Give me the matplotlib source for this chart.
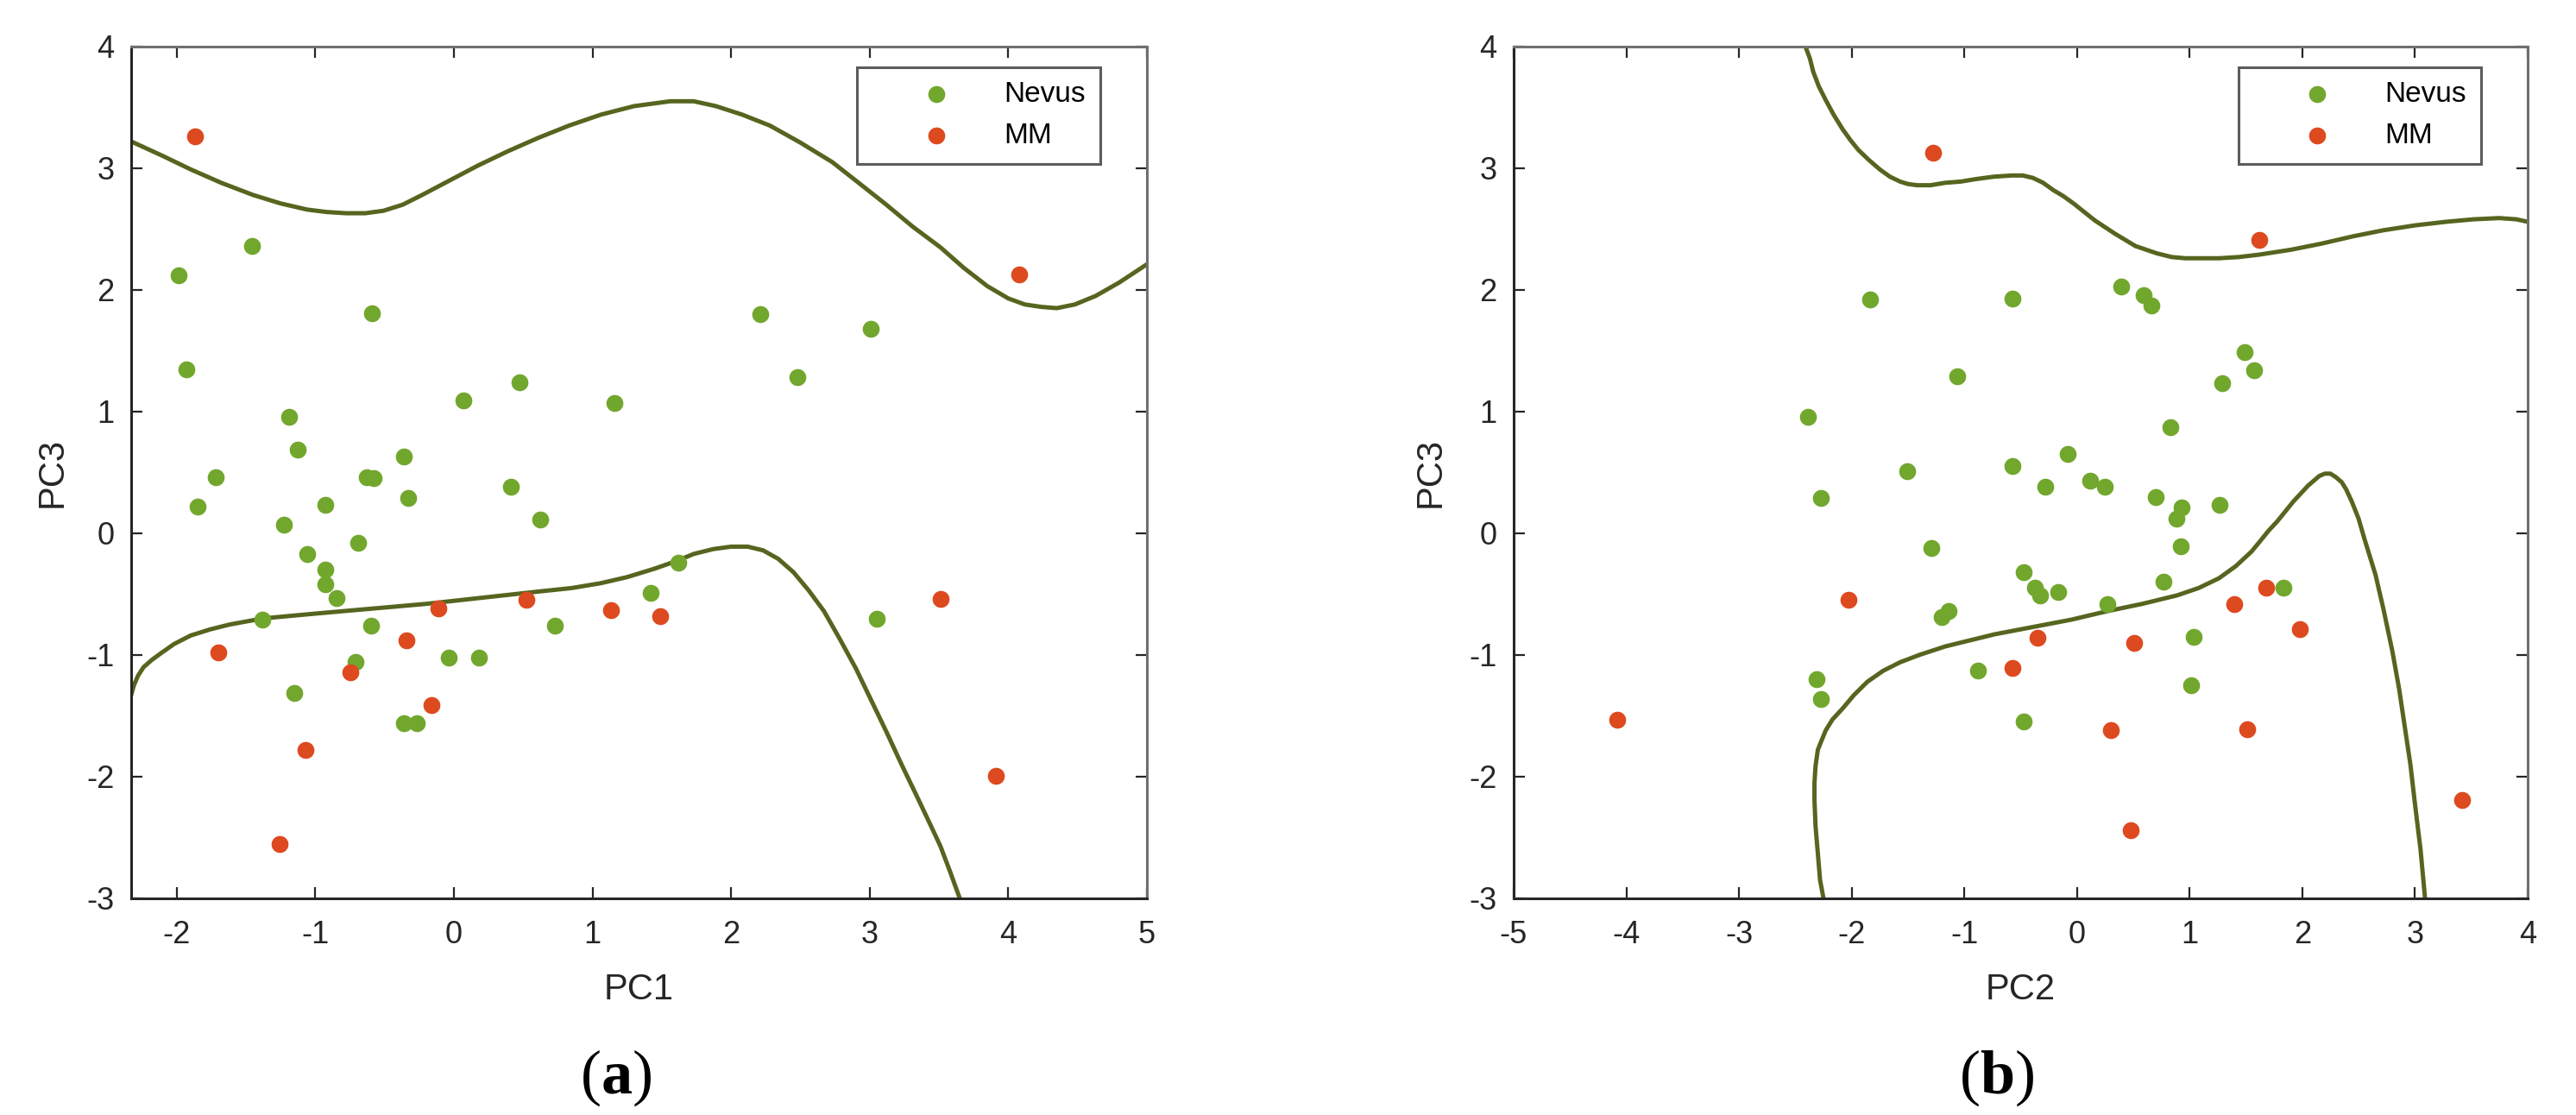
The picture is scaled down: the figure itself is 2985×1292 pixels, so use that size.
import matplotlib
matplotlib.use("Agg")
import matplotlib.pyplot as plt

plt.rcParams['font.family'] = ['Liberation Sans', 'DejaVu Sans']
plt.rcParams['axes.unicode_minus'] = False
plt.rcParams['mathtext.fontset'] = 'custom'
plt.rcParams['mathtext.bf'] = 'Liberation Serif:bold'
plt.rcParams['mathtext.rm'] = 'Liberation Serif'

# ---- panel (a): PC1 vs PC3 ----
a_nevus_x = [-1.46, -1.985, -0.59, -1.93, -1.19, 0.07, 0.47, 1.16, -1.13, -0.36,
             -1.72, -0.63, -0.58, -1.85, -0.93, -0.33, 0.41, 0.62, -1.23, -0.69,
             -1.06, -0.93, -0.93, -0.85, -1.38, -0.60, 0.73, -0.04, 0.18, -0.71,
             -1.15, -0.36, -0.27, 1.62, 1.42, 3.05, 2.21, 3.01, 2.48]
a_nevus_y = [2.36, 2.12, 1.81, 1.35, 0.96, 1.09, 1.24, 1.07, 0.69, 0.63,
             0.46, 0.46, 0.45, 0.22, 0.23, 0.29, 0.38, 0.11, 0.07, -0.08,
             -0.17, -0.30, -0.42, -0.53, -0.71, -0.76, -0.76, -1.02, -1.02, -1.06,
             -1.31, -1.56, -1.56, -0.24, -0.49, -0.70, 1.80, 1.68, 1.28]
a_mm_x = [-1.87, 4.08, -0.11, 0.52, 1.13, -0.34, -1.70, -0.75, -0.16, -1.07,
          -1.26, 1.49, 3.51, 3.91]
a_mm_y = [3.26, 2.13, -0.62, -0.55, -0.63, -0.88, -0.98, -1.14, -1.41, -1.78,
          -2.55, -0.68, -0.54, -1.99]

a_upper_x = [-2.33, -2.10, -1.90, -1.68, -1.45, -1.25, -1.06, -0.92, -0.78, -0.64,
             -0.51, -0.37, -0.23, -0.03, 0.17, 0.39, 0.61, 0.83, 1.06, 1.30,
             1.56, 1.73, 1.89, 2.08, 2.28, 2.50, 2.73, 2.92, 3.12, 3.31,
             3.51, 3.68, 3.85, 4.00, 4.12, 4.24, 4.35, 4.48, 4.63, 4.80, 5.0]
a_upper_y = [3.22, 3.10, 2.99, 2.88, 2.78, 2.71, 2.66, 2.64, 2.63, 2.63,
             2.65, 2.70, 2.78, 2.90, 3.02, 3.14, 3.25, 3.35, 3.44, 3.51,
             3.55, 3.55, 3.51, 3.44, 3.35, 3.21, 3.05, 2.88, 2.70, 2.52,
             2.35, 2.18, 2.03, 1.93, 1.88, 1.86, 1.85, 1.88, 1.95, 2.06, 2.21]
a_lower_x = [-2.33, -2.31, -2.28, -2.24, -2.18, -2.12, -2.02, -1.90, -1.76, -1.62,
             -1.38, -1.0, -0.60, -0.20, 0.20, 0.60, 0.85, 1.06, 1.25, 1.45,
             1.60, 1.73, 1.87, 2.00, 2.12, 2.23, 2.34, 2.45, 2.56, 2.67,
             2.78, 2.90, 3.01, 3.12, 3.23, 3.34, 3.44, 3.51, 3.58, 3.65]
a_lower_y = [-1.33, -1.25, -1.17, -1.10, -1.04, -0.99, -0.91, -0.84, -0.79, -0.75,
             -0.70, -0.66, -0.62, -0.58, -0.53, -0.48, -0.45, -0.41, -0.36, -0.29,
             -0.23, -0.17, -0.13, -0.11, -0.11, -0.14, -0.21, -0.32, -0.47, -0.64,
             -0.86, -1.11, -1.37, -1.63, -1.90, -2.16, -2.40, -2.57, -2.78, -3.0]

# ---- panel (b): PC2 vs PC3 ----
b_nevus_x = [-1.84, -1.06, -2.39, -1.51, -2.27, -1.29, 0.39, 0.59, 0.66, -0.57,
             1.49, 1.57, 1.29, 0.83, -0.08, -0.57, -0.28, 0.12, 0.25, 0.70,
             0.93, 0.88, 1.27, 0.92, -1.20, -1.14, -0.88, -2.31, -2.27, -0.47,
             -0.37, -0.33, -0.17, 0.77, 0.27, 1.83, 1.04, 1.01, -0.47]
b_nevus_y = [1.92, 1.29, 0.96, 0.51, 0.29, -0.12, 2.03, 1.96, 1.87, 1.93,
             1.49, 1.34, 1.23, 0.87, 0.65, 0.55, 0.38, 0.43, 0.38, 0.30,
             0.21, 0.12, 0.23, -0.11, -0.69, -0.64, -1.13, -1.20, -1.36, -0.32,
             -0.45, -0.51, -0.48, -0.40, -0.58, -0.45, -0.85, -1.25, -1.55]
b_mm_x = [-1.28, 1.62, -2.03, -4.08, 1.68, 1.40, 1.98, -0.35, 0.51, -0.57,
          0.30, 1.51, 3.42, 0.48]
b_mm_y = [3.13, 2.41, -0.55, -1.53, -0.45, -0.58, -0.79, -0.86, -0.90, -1.11,
          -1.62, -1.61, -2.19, -2.44]

b_upper_x = [-2.41, -2.37, -2.34, -2.29, -2.23, -2.16, -2.08, -2.01, -1.94, -1.85,
             -1.75, -1.66, -1.57, -1.50, -1.42, -1.30, -1.17, -1.03, -0.90, -0.74,
             -0.58, -0.48, -0.39, -0.30, -0.21, -0.12, -0.03, 0.16, 0.34, 0.52,
             0.71, 0.84, 0.96, 1.11, 1.26, 1.44, 1.62, 1.90, 2.17, 2.45,
             2.72, 3.00, 3.28, 3.52, 3.75, 3.90, 4.0]
b_upper_y = [4.0, 3.90, 3.79, 3.67, 3.56, 3.44, 3.32, 3.23, 3.15, 3.07,
             2.99, 2.93, 2.89, 2.87, 2.86, 2.86, 2.88, 2.89, 2.91, 2.93,
             2.94, 2.94, 2.92, 2.88, 2.82, 2.77, 2.71, 2.57, 2.46, 2.36,
             2.30, 2.27, 2.26, 2.26, 2.26, 2.27, 2.29, 2.33, 2.38, 2.44,
             2.49, 2.53, 2.56, 2.58, 2.59, 2.58, 2.56]
b_lower_x = [-2.25, -2.28, -2.30, -2.32, -2.33, -2.33, -2.32, -2.30, -2.27, -2.23,
             -2.17, -2.08, -1.98, -1.86, -1.72, -1.57, -1.40, -1.17, -0.95, -0.73,
             -0.39, -0.05, 0.27, 0.58, 0.89, 1.08, 1.26, 1.41, 1.55, 1.63,
             1.70, 1.78, 1.85, 1.92, 1.99, 2.05, 2.10, 2.15, 2.20, 2.25,
             2.30, 2.35, 2.39, 2.44, 2.50, 2.55, 2.60, 2.65, 2.72, 2.80,
             2.86, 2.91, 2.96, 3.00, 3.05, 3.09]
b_lower_y = [-3.0, -2.85, -2.63, -2.41, -2.19, -2.05, -1.91, -1.78, -1.71, -1.62,
             -1.53, -1.44, -1.33, -1.22, -1.13, -1.06, -1.00, -0.93, -0.88, -0.83,
             -0.77, -0.71, -0.64, -0.58, -0.51, -0.45, -0.37, -0.27, -0.15, -0.06,
             0.02, 0.10, 0.18, 0.26, 0.33, 0.39, 0.43, 0.47, 0.49, 0.49,
             0.46, 0.42, 0.36, 0.26, 0.12, -0.04, -0.19, -0.34, -0.62, -0.97,
             -1.28, -1.59, -1.90, -2.22, -2.60, -3.0]

green = '#72A72E'
red = '#DD4A1F'
line_col = '#56651F'
text_col = '#262626'

fig = plt.figure(figsize=(29.85, 12.92), dpi=100)
ax1 = fig.add_axes([0.0509, 0.1943, 0.3943, 0.764])
ax2 = fig.add_axes([0.5876, 0.1943, 0.3936, 0.764])

panels = [
    (ax1, a_nevus_x, a_nevus_y, a_mm_x, a_mm_y, a_upper_x, a_upper_y, a_lower_x, a_lower_y,
     (-2.33, 5), range(-2, 6), 'PC1', -0.078),
    (ax2, b_nevus_x, b_nevus_y, b_mm_x, b_mm_y, b_upper_x, b_upper_y, b_lower_x, b_lower_y,
     (-5, 4), range(-5, 5), 'PC2', -0.082),
]

for ax, nx, ny, mx, my, ux, uy, lx, ly, xlim, xticks, xlab, ylab_x in panels:
    ax.plot(ux, uy, color=line_col, lw=3.6, zorder=2, solid_joinstyle='round')
    ax.plot(lx, ly, color=line_col, lw=3.6, zorder=2, solid_joinstyle='round')
    ax.scatter(nx, ny, s=200, color=green, linewidths=0, zorder=3, label='Nevus')
    ax.scatter(mx, my, s=200, color=red, linewidths=0, zorder=3, label='MM')
    ax.set_xlim(*xlim)
    ax.set_ylim(-3, 4)
    ax.set_xticks(list(xticks))
    ax.set_yticks(range(-3, 5))
    ax.tick_params(direction='in', length=9.5, width=1.6, top=True, right=True,
                   labelsize=26, labelcolor=text_col, color=text_col, pad=14)
    ax.tick_params(axis='x', pad=18)
    for side in ['left', 'bottom']:
        ax.spines[side].set_color(text_col)
        ax.spines[side].set_linewidth(2.2)
    for side in ['top', 'right']:
        ax.spines[side].set_color('#707070')
        ax.spines[side].set_linewidth(2.2)
    ax.set_xlabel(xlab, fontsize=30, color=text_col, va='center')
    ax.xaxis.set_label_coords(0.5, -0.107)
    ax.set_ylabel('PC3', fontsize=30, color=text_col, va='center')
    ax.yaxis.set_label_coords(ylab_x, 0.5)
    leg = ax.legend(loc='upper right', bbox_to_anchor=(0.954, 0.976), borderaxespad=0,
                    fontsize=24, frameon=True, fancybox=False, handlelength=4.5,
                    handletextpad=0.1, borderpad=0.5, labelspacing=0.5, scatterpoints=1)
    leg.get_frame().set_edgecolor('#333333')
    leg.get_frame().set_linewidth(2.2)

fig.text(0.2389, 0.033, r'($\mathbf{a}$)', fontsize=52, family='Liberation Serif',
         ha='center', va='center', color='black')
fig.text(0.7752, 0.033, r'($\mathbf{b}$)', fontsize=52, family='Liberation Serif',
         ha='center', va='center', color='black')

fig.savefig('out.png', dpi=100, facecolor='white')
